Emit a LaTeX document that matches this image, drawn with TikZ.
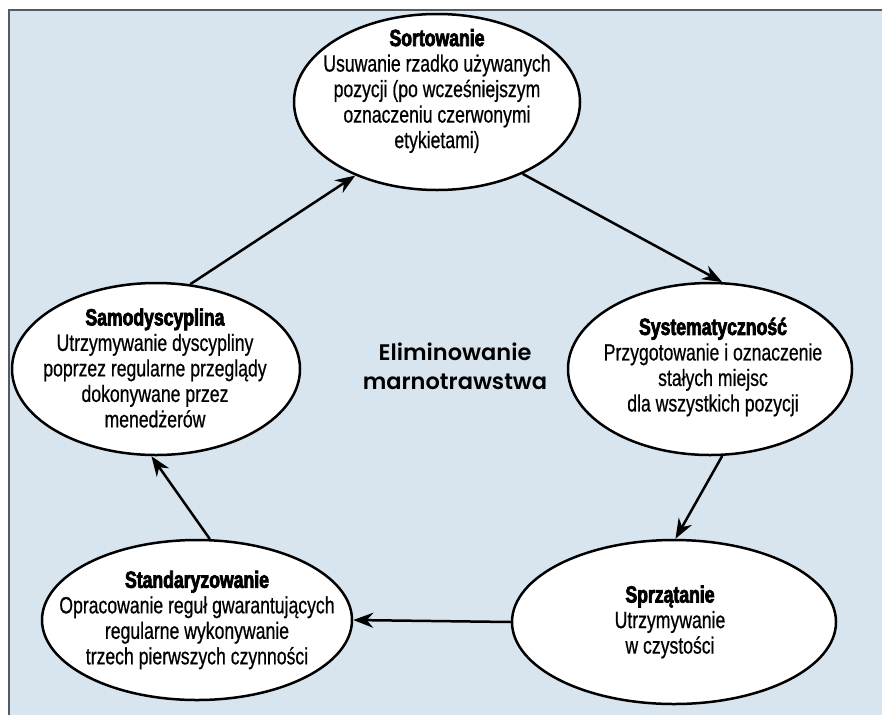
\documentclass[tikz,border=0pt]{standalone}
\usepackage{fontspec}
\setmainfont{Liberation Sans}[FakeStretch=0.75, UprightFeatures={FakeBold=0.6}, BoldFeatures={FakeBold=3}]
\newfontfamily\ctrfont{Poppins SemiBold}
\usetikzlibrary{shapes.geometric,arrows.meta}
\definecolor{panelblue}{HTML}{D8E5EE}
\definecolor{framegray}{HTML}{555A60}
\tikzset{
  stage/.style={ellipse, draw=black, line width=2.5pt, fill=white, inner sep=0pt},
  stagetext/.style={align=center, inner sep=0pt, font=\fontsize{23.5}{25.5}\selectfont},
  flow/.style={-{Stealth[length=20pt,width=15pt]}, line width=2.5pt},
}
\begin{document}
\begin{tikzpicture}[x=1pt,y=-1pt]
\useasboundingbox (0,0) rectangle (882,715);
\fill[panelblue] (9,10) rectangle (882,715);
\draw[framegray, line width=1.3pt] (9,715) -- (9,10) -- (882,10);

% ellipses
\node[stage, minimum width=286pt, minimum height=176pt] (sort) at (437,102) {};
\node[stage, minimum width=284pt, minimum height=172pt] (sys) at (710,369) {};
\node[stage, minimum width=324pt, minimum height=164pt] (spr) at (674,622) {};
\node[stage, minimum width=310pt, minimum height=160pt] (std) at (197,620) {};
\node[stage, minimum width=288pt, minimum height=172pt] (sam) at (156,369) {};

% texts
\node[stagetext] (sortT) at (437,91) {\textbf{Sortowanie}\\Usuwanie rzadko używanych\\pozycji (po wcześniejszym\\oznaczeniu czerwonymi\\etykietami)};
\node[stagetext] (sysT) at (713,367) {\textbf{Systematyczność}\\Przygotowanie i oznaczenie\\stałych miejsc\\dla wszystkich pozycji};
\node[stagetext] (sprT) at (670,622) {\textbf{Sprzątanie}\\Utrzymywanie\\w czystości};
\node[stagetext] (stdT) at (197,620) {\textbf{Standaryzowanie}\\Opracowanie reguł gwarantujących\\regularne wykonywanie\\trzech pierwszych czynności};
\node[stagetext] (samT) at (155,368) {\textbf{Samodyscyplina}\\Utrzymywanie dyscypliny\\poprzez regularne przeglądy\\dokonywane przez\\menedżerów};

\node[align=center, inner sep=0pt, font=\ctrfont\fontsize{22.5}{29}\selectfont] (center) at (455,366) {Eliminowanie\\marnotrawstwa};

% connectors
\draw[flow] (sam.68) -- (sort.222);
\draw[flow] (sort.320) -- (sys.82);
\draw[flow] (sys.278) -- (spr.89);
\draw[flow] (spr.180) -- (std.0);
\draw[flow] (std.81) -- (sam.267);
\end{tikzpicture}
\end{document}
